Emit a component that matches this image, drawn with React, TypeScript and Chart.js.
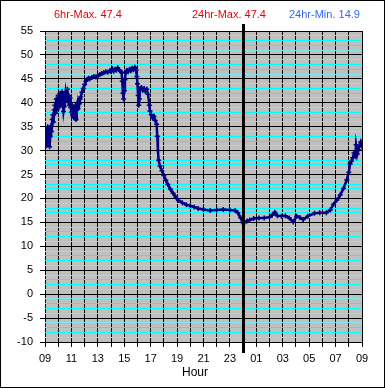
import React, { useEffect, useRef } from "react";
import { Chart, registerables } from "chart.js";

Chart.register(...registerables);

// hours elapsed since 09:00
const hours = [
  0.0, 0.05, 0.1, 0.15, 0.2, 0.25, 0.3, 0.35, 0.4, 0.45, 0.5, 0.55, 0.6, 0.65, 0.7, 0.75, 0.8, 0.85, 0.9, 0.95,
  1.0, 1.05, 1.1, 1.15, 1.2, 1.25, 1.3, 1.35, 1.4, 1.45, 1.5, 1.55, 1.6, 1.65, 1.7, 1.75, 1.8, 1.85, 1.9, 1.95,
  2.0, 2.05, 2.1, 2.15, 2.2, 2.25, 2.3, 2.35, 2.4, 2.45, 2.5, 2.55, 2.6, 2.65, 2.7, 2.8, 2.9, 3.0, 3.1, 3.2,
  3.3, 3.4, 3.55, 3.7, 3.85, 4.0, 4.15, 4.3, 4.45, 4.6, 4.75, 4.9, 5.0, 5.1, 5.2, 5.3, 5.4, 5.5, 5.6, 5.7,
  5.8, 5.85, 5.9, 5.95, 6.0, 6.05, 6.1, 6.2, 6.3, 6.4, 6.5, 6.6, 6.7, 6.8, 6.9, 6.95, 7.0, 7.05, 7.1, 7.15,
  7.2, 7.3, 7.4, 7.5, 7.6, 7.7, 7.8, 7.9, 7.95, 8.05, 8.15, 8.25, 8.35, 8.45, 8.5, 8.55, 8.6, 8.7, 8.85, 9.0,
  9.15, 9.3, 9.5, 9.7, 9.9, 10.1, 10.4, 10.7, 11.0, 11.3, 11.6, 12.0, 12.5, 13.0, 13.5, 14.0, 14.4, 14.6, 14.8, 14.95,
  15.1, 15.3, 15.5, 15.8, 16.2, 16.6, 17.0, 17.2, 17.4, 17.6, 17.9, 18.2, 18.5, 18.8, 19.05, 19.3, 19.55, 19.9, 20.4, 20.8,
  21.3, 21.6, 21.85, 22.1, 22.35, 22.6, 22.85, 23.0, 23.1, 23.2, 23.3, 23.4, 23.5, 23.55, 23.65, 23.73, 23.8, 23.9, 24.0,
];

const temps = [
  32.5, 34.0, 31.0, 33.5, 35.0, 32.0, 34.5, 30.8, 33.0, 35.2, 34.0, 36.5, 37.5, 36.0, 38.5, 39.5, 37.8, 40.8, 38.5, 40.0,
  41.5, 39.0, 40.5, 42.0, 39.5, 41.0, 42.3, 40.0, 38.2, 39.2, 40.8, 42.0, 40.5, 41.8, 42.8, 40.2, 41.5, 39.5, 41.0, 39.0,
  38.0, 39.5, 37.5, 39.0, 36.8, 37.0, 39.5, 36.5, 38.5, 39.5, 38.8, 40.2, 39.8, 40.8, 41.2, 42.2, 43.0, 43.8, 44.5, 44.9,
  45.1, 45.0, 45.3, 45.5, 45.4, 45.7, 45.9, 46.1, 46.3, 46.5, 46.4, 46.7, 46.5, 47.1, 46.6, 47.0, 46.8, 47.3, 46.9, 46.6,
  46.4, 44.5, 42.0, 40.8, 42.5, 44.8, 46.2, 46.8, 46.5, 47.0, 46.7, 47.2, 46.9, 47.4, 46.8, 45.5, 44.0, 41.5, 39.5, 40.8,
  43.0, 43.2, 42.6, 43.0, 42.4, 42.8, 41.8, 39.5, 38.3, 37.5, 36.8, 37.2, 36.3, 35.5, 33.0, 30.0, 28.0, 26.8, 25.8, 24.8,
  23.8, 22.9, 21.9, 21.1, 20.3, 19.6, 19.1, 18.7, 18.5, 18.2, 17.9, 17.7, 17.5, 17.6, 17.7, 17.6, 17.5, 17.0, 16.0, 15.0,
  15.0, 15.3, 15.5, 15.8, 15.9, 15.9, 16.1, 16.5, 17.1, 16.4, 16.3, 16.4, 15.9, 15.1, 16.3, 16.0, 15.6, 16.3, 16.9, 17.0,
  17.0, 17.6, 18.8, 19.7, 20.7, 22.1, 23.9, 25.5, 27.2, 27.8, 28.5, 29.5, 28.9, 31.2, 29.3, 30.2, 31.0, 31.8, 30.8,
];

const startHour = 9;
const yMin = -10;
const yMax = 55;
const headerTexts = ["6hr-Max. 47.4", "24hr-Max. 47.4", "24hr-Min. 14.9"];
const headerColors = ["#ee0000", "#ee0000", "#3366ff"];
const xTitle = "Hour";
const midnightOffset = 15;

const FONT = "'Liberation Sans', Arial, sans-serif";

const minorColor = (v: number) => {
  const m = ((v % 5) + 5) % 5;
  if (m === 0) return "#000000";
  return m === 2 || m === 3 ? "#00ffff" : "#80e8e8";
};

export default function App() {
  const ref = useRef<HTMLCanvasElement | null>(null);

  useEffect(() => {
    document.body.style.margin = "0";
    const canvas = ref.current;
    if (!canvas) return;

    const decor = {
      id: "decor",
      beforeDraw(chart: any) {
        const { ctx, chartArea } = chart;
        ctx.save();
        ctx.fillStyle = "#ffffff";
        ctx.fillRect(0, 0, chart.width, chart.height);
        ctx.fillStyle = "#c0c0c0";
        ctx.fillRect(chartArea.left, chartArea.top, chartArea.right - chartArea.left, chartArea.bottom - chartArea.top);
        ctx.restore();
      },
      afterDraw(chart: any) {
        const { ctx, chartArea } = chart;
        const xs = chart.scales.x;
        ctx.save();
        const mx = Math.round(xs.getPixelForValue(midnightOffset));
        ctx.fillStyle = "#000000";
        ctx.fillRect(mx - 1, chartArea.top - 7, 3, chartArea.bottom - chartArea.top + 18);
        ctx.font = `11px ${FONT}`;
        ctx.textBaseline = "middle";
        ctx.textAlign = "left";
        const hx = [54, 192, 289];
        headerTexts.forEach((t, i) => {
          ctx.fillStyle = headerColors[i];
          ctx.fillText(t, hx[i], 15);
        });
        ctx.font = `12px ${FONT}`;
        ctx.fillStyle = "#000000";
        ctx.textAlign = "center";
        ctx.fillText(xTitle, 195, 373);
        ctx.strokeStyle = "#000000";
        ctx.lineWidth = 1;
        ctx.strokeRect(0.5, 0.5, chart.width - 1, chart.height - 1);
        ctx.restore();
      },
    };

    const chart = new Chart(canvas, {
      type: "scatter",
      data: {
        datasets: [
          {
            data: hours.map((h, i) => ({ x: h, y: temps[i] })),
            showLine: true,
            borderColor: "#000080",
            backgroundColor: "#000080",
            borderWidth: 2.5,
            pointStyle: "cross",
            pointRadius: 2.5,
            pointBorderWidth: 1.5,
            pointBorderColor: "#000080",
          },
        ],
      },
      options: {
        responsive: false,
        animation: false,
        layout: { padding: { top: 31, right: 23, left: 0, bottom: 0 } },
        plugins: {
          legend: { display: false },
          tooltip: { enabled: false },
          title: { display: false },
        },
        scales: {
          x: {
            type: "linear",
            min: 0,
            max: 24,
            afterFit: (s: any) => {
              s.height = 46;
            },
            ticks: {
              stepSize: 1,
              autoSkip: false,
              maxRotation: 0,
              padding: 5,
              color: "#000000",
              font: { family: FONT, size: 11 },
              callback: (v: any) => {
                const n = Number(v);
                if (n % 2 !== 0) return "";
                const hh = (startHour + n) % 24;
                return String(hh).padStart(2, "0");
              },
            },
            grid: {
              color: "#000000",
              lineWidth: 1,
              tickLength: 5,
              tickColor: "#000000",
            },
            border: { display: false },
          },
          y: {
            min: yMin,
            max: yMax,
            afterFit: (s: any) => {
              s.width = 45;
            },
            ticks: {
              stepSize: 1,
              autoSkip: false,
              padding: 7,
              color: "#000000",
              font: { family: FONT, size: 11 },
              callback: (v: any) => {
                const n = Number(v);
                return n % 5 === 0 ? String(n) : "";
              },
            },
            grid: {
              color: (c: any) => minorColor(c.tick ? c.tick.value : 0),
              tickColor: (c: any) => (c.tick && c.tick.value % 5 === 0 ? "#000000" : "rgba(0,0,0,0)"),
              lineWidth: 1,
              tickLength: 5,
            },
            border: { display: false },
          },
        },
      },
      plugins: [decor],
    });

    return () => chart.destroy();
  }, []);

  return <canvas ref={ref} width={385} height={388} style={{ display: "block" }} />;
}
